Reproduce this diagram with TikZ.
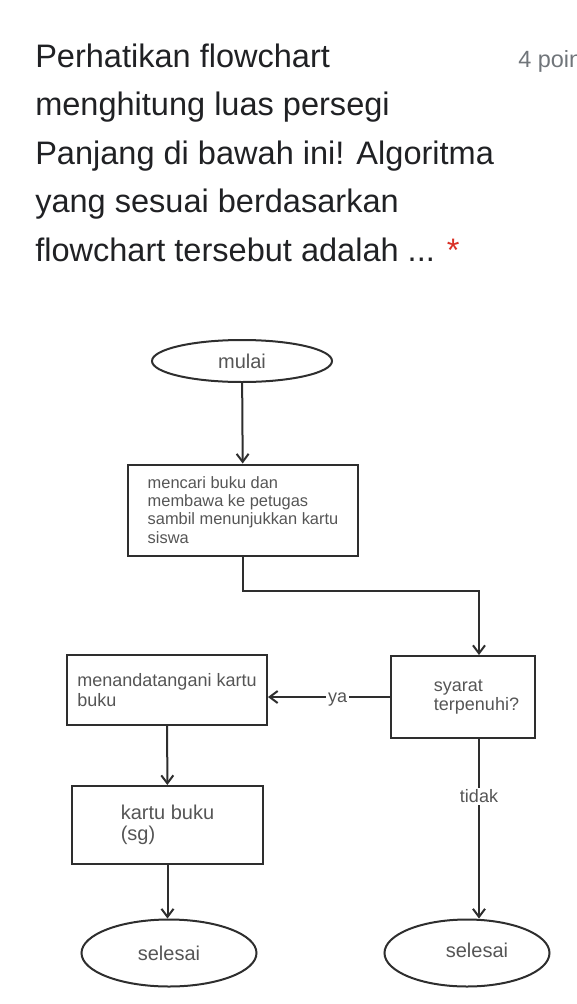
\documentclass[tikz,border=0pt]{standalone}
\usepackage{fontspec}
\setmainfont{Liberation Sans}
\usepackage{xcolor}
\usetikzlibrary{shapes.geometric}
\usetikzlibrary{arrows.meta}
\definecolor{titlegray}{HTML}{202124}
\definecolor{pointgray}{HTML}{70757A}
\definecolor{starred}{HTML}{D93025}
\definecolor{chartline}{HTML}{2E2E2E}
\definecolor{charttext}{HTML}{555555}
\tikzset{
  question/.style={anchor=base west,inner sep=0pt,text=titlegray,font=\fontsize{24.4pt}{29pt}\selectfont},
  chartfont/.style={text=charttext,font=\fontsize{13.5pt}{14.5pt}\selectfont},
  terminal/.style={draw=chartline,line width=1.5pt,ellipse,inner sep=0pt,text=charttext,font=\fontsize{15pt}{16pt}\selectfont},
  process/.style={draw=chartline,line width=1.5pt,rectangle,inner sep=0pt,align=left,chartfont},
  flow/.style={draw=chartline,line width=1.5pt,-{Straight Barb[length=6pt,width=9pt]}},
  answer/.style={fill=white,inner sep=1.5pt,chartfont}
}

\begin{document}
\begin{tikzpicture}[x=0.75pt,y=-0.75pt]
\useasboundingbox (0,0) rectangle (576,1004);
\node[question] (q1) at (35,67) {Perhatikan flowchart};
\node[question] (q2) at (35,115.5) {menghitung luas persegi};
\node[question] (q3) at (35,164) {Panjang di bawah ini! Algoritma};
\node[question] (q4) at (35,212.5) {yang sesuai berdasarkan};
\node[question] (q5) at (35,261) {flowchart tersebut adalah ... \textcolor{starred}{*}};
\node[anchor=base west,inner sep=0pt,text=pointgray,font=\fontsize{17.6pt}{20pt}\selectfont] (poin) at (518,67) {4 poin};

\node[terminal,minimum width=135pt,minimum height=31.5pt] (mulai) at (242,361) {mulai};
\node[process,minimum width=172.5pt,minimum height=68.25pt,font=\fontsize{12.3pt}{13.6pt}\selectfont] (cari) at (243,510)
  {mencari buku dan\\membawa ke petugas\\sambil menunjukkan kartu\\siswa};
\node[process,minimum width=108pt,minimum height=61.5pt] (syarat) at (463,697)
  {\hspace*{20.25pt}\begin{tabular}{@{}l@{}}syarat\\terpenuhi?\end{tabular}};
\node[process,minimum width=150pt,minimum height=52.5pt] (tanda) at (167,690)
  {menandatangani kartu\\buku};
\node[process,minimum width=143.25pt,minimum height=58.5pt,font=\fontsize{15pt}{15.5pt}\selectfont] (kartu) at (167.5,825)
  {kartu buku\\(sg)};
\node[terminal,minimum width=131.25pt,minimum height=50.25pt] (selesaiA) at (169,953) {selesai};
\node[terminal,minimum width=123.75pt,minimum height=50.25pt] (selesaiB) at (467,953) {\hspace*{15pt}\raisebox{4.5pt}{selesai}};

\draw[flow] (mulai) -- (cari);
\draw[flow] (cari.south) -- ++(0,34) -| ([xshift=12pt]syarat.north);
\draw[flow] (syarat.west) -- node[answer,pos=.43,yshift=-2pt] {ya} (syarat.west -| tanda.east);
\draw[flow] (tanda) -- (kartu);
\draw[flow] (kartu.south) -- (kartu.south |- selesaiA.north);
\draw[flow] ([xshift=12pt]syarat.south) -- node[answer,pos=.32] {tidak} ([xshift=12pt]syarat.south |- selesaiB.north);
\end{tikzpicture}
\end{document}
